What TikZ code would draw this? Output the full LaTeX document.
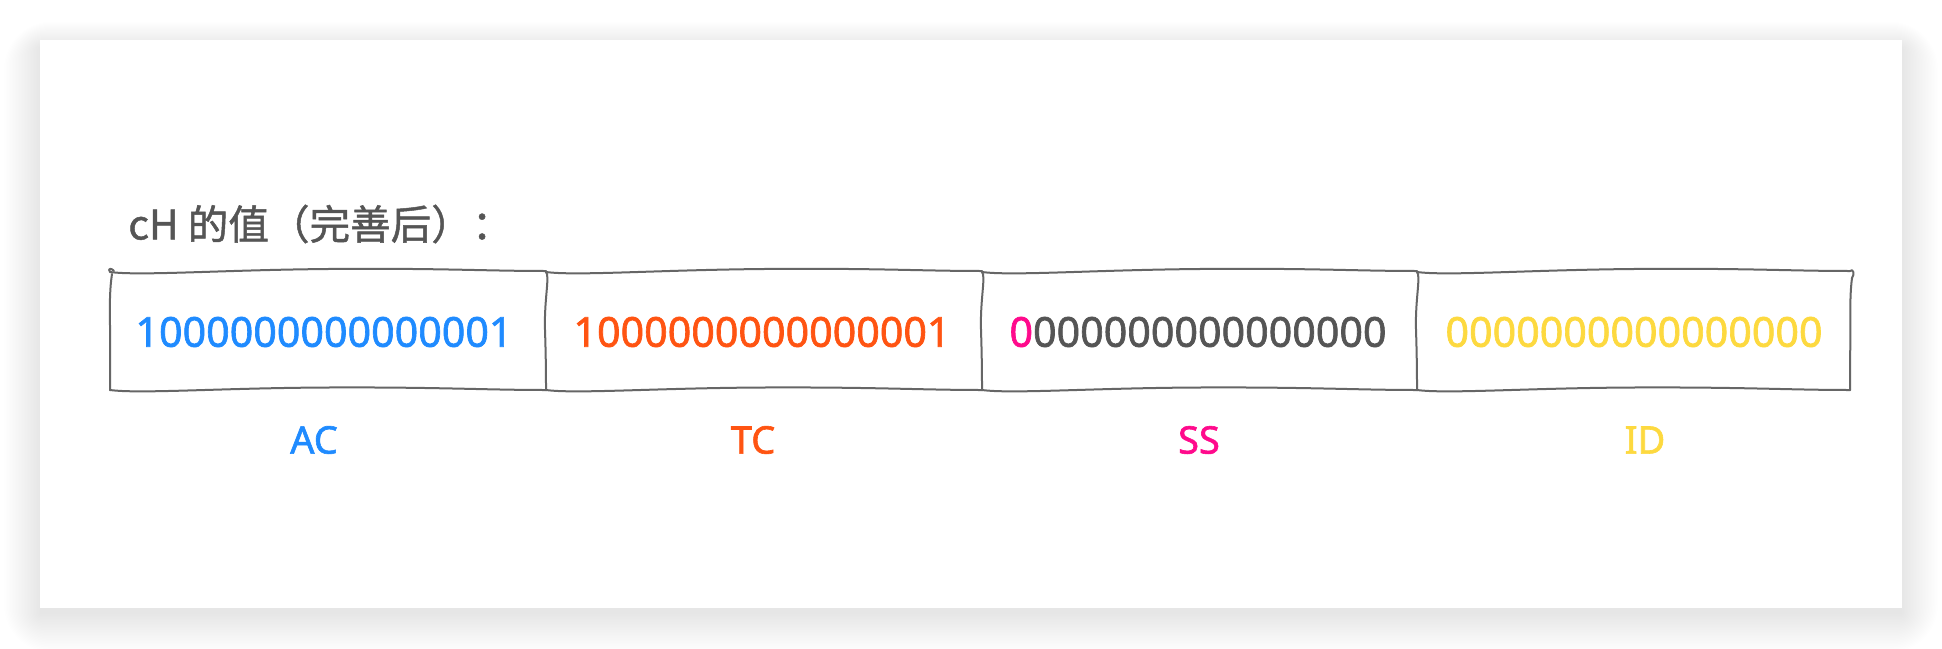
\documentclass[tikz,border=0pt]{standalone}
\usepackage{fontspec}
\setmainfont{Noto Sans}
\newfontfamily\handfont[FakeBold=1.6]{Noto Sans}
\newfontfamily\cjkfont[FakeBold=1.2]{Noto Sans CJK SC}
\definecolor{acblue}{HTML}{1F8BFF}
\definecolor{tcred}{HTML}{FF5412}
\definecolor{sspink}{HTML}{FF0A8C}
\definecolor{idyellow}{HTML}{FDD93F}
\definecolor{inkgray}{HTML}{555555}
\definecolor{linegray}{HTML}{666666}
\newcommand{\sketchcell}[2]{%
  \draw[sketch] (#1,272) .. controls ({#1+30},276) and ({#1+110},270) .. ({(#1+#2)/2},269)
     .. controls ({(#1+#2)/2+110},268) and ({#2-60},271) .. (#2,271);
  \draw[sketch] (#1,390) .. controls ({#1+30},394) and ({#1+110},388) .. ({(#1+#2)/2},387.5)
     .. controls ({(#1+#2)/2+110},387) and ({#2-60},390) .. (#2,390);
}
\newcommand{\sketchside}[1]{%
  \draw[sketch] (#1,272) .. controls ({#1+4},276) and ({#1-2},300) .. ({#1-1},330)
     .. controls ({#1},360) and ({#1},380) .. (#1,390);
}
\begin{document}
\begin{tikzpicture}[x=0.5pt,y=-0.5pt,
  sketch/.style={draw=linegray,line width=1pt,line cap=round,line join=round},
  digit/.style={font=\handfont\fontsize{20.6pt}{24pt}\selectfont,inner sep=0pt},
  lab/.style={font=\handfont\fontsize{19pt}{23pt}\selectfont,inner sep=0pt},
  title/.style={font=\cjkfont\fontsize{20.3pt}{24pt}\selectfont,text=inkgray,inner sep=0pt,anchor=west}]
\useasboundingbox (0,0) rectangle (1942,648);
\fill[white] (0,0) rectangle (1942,648);
\foreach \i in {0,...,24} {
  \fill[black,opacity=0.005,rounded corners={\i*1pt}] ({40-1.5*\i},{48-1.1*\i}) rectangle ({1902+1.5*\i},{614+1.6*\i});
}
\fill[white] (40,40) rectangle (1902,608);
% title
\node[title] (title) at (128,224) {cH 的值（完善后）：};
% cells
\sketchcell{110}{546}
\sketchcell{546}{982}
\sketchcell{982}{1417}
\sketchcell{1417}{1850}
\draw[sketch] (110,272) .. controls (107,268) and (112,268) .. (114,271);
\draw[sketch] (1850,271) .. controls (1853,268) and (1855,274) .. (1852,278);
\draw[sketch] (112,274) .. controls (108,300) and (111,330) .. (110,360) .. controls (110,375) and (110,385) .. (110,390);
\sketchside{546}
\sketchside{982}
\sketchside{1417}
\draw[sketch] (1852,278) .. controls (1849,300) and (1851,330) .. (1850,360) .. controls (1850,375) and (1850,385) .. (1850,390);
% values
\node[digit,text=acblue] (acv) at (324,332) {1000000000000001};
\node[digit,text=tcred] (tcv) at (762,332) {1000000000000001};
\node[digit,text=inkgray] (ssv) at (1198,332) {\textcolor{sspink}{0}000000000000000};
\node[digit,text=idyellow] (idv) at (1634,332) {0000000000000000};
% labels
\node[lab,text=acblue] (ac) at (314,440) {AC};
\node[lab,text=tcred] (tc) at (753,440) {TC};
\node[lab,text=sspink] (ss) at (1199,440) {SS};
\node[lab,text=idyellow] (id) at (1645,440) {ID};
\end{tikzpicture}
\end{document}
